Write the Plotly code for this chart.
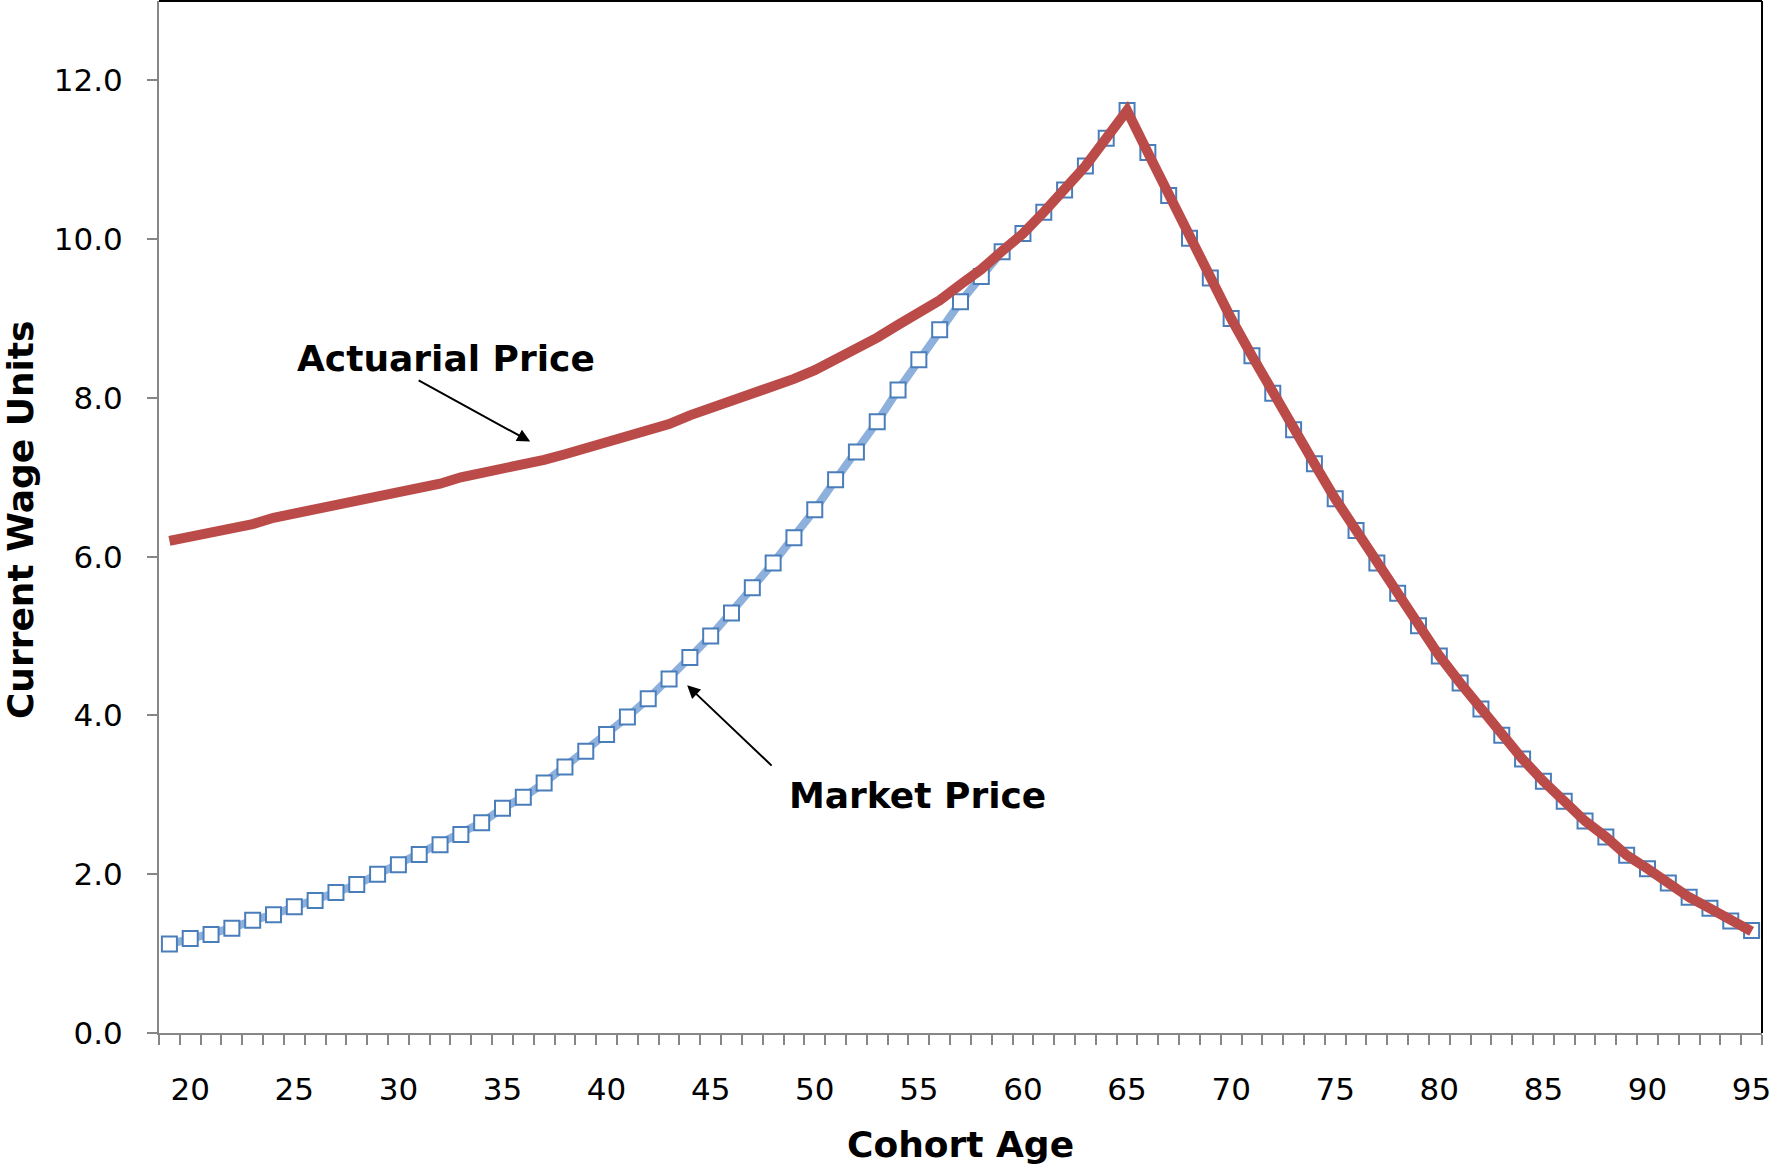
import plotly.graph_objects as go

ages = list(range(19, 96))

market_price = [
    1.12, 1.19, 1.24, 1.32, 1.42, 1.49, 1.59, 1.67, 1.77, 1.87,
    2.00, 2.12, 2.25, 2.37, 2.50, 2.65, 2.83, 2.97, 3.15, 3.35,
    3.55, 3.76, 3.98, 4.21, 4.46, 4.73, 5.00, 5.29, 5.61, 5.92,
    6.24, 6.59, 6.97, 7.32, 7.70, 8.10, 8.48, 8.86, 9.21, 9.53,
    9.84, 10.07, 10.34, 10.62, 10.92, 11.27, 11.62,
    11.09, 10.55, 10.01, 9.51, 9.00, 8.53, 8.06, 7.60, 7.17, 6.73,
    6.33, 5.92, 5.54, 5.13, 4.75, 4.41, 4.08, 3.75, 3.45, 3.17,
    2.92, 2.67, 2.47, 2.24, 2.07, 1.89, 1.71, 1.57, 1.41, 1.29,
]

actuarial_price = [
    6.20, 6.25, 6.31, 6.36, 6.41, 6.49, 6.54, 6.59, 6.64, 6.69,
    6.74, 6.81, 6.86, 6.92, 7.00, 7.05, 7.09, 7.17, 7.22, 7.29,
    7.37, 7.42, 7.50, 7.60, 7.67, 7.78, 7.87, 7.95, 8.04, 8.13,
    8.24, 8.35, 8.48, 8.61, 8.76, 8.92, 9.07, 9.23, 9.43, 9.62,
    9.85, 10.07, 10.34, 10.62, 10.92, 11.27, 11.62,
    11.09, 10.55, 10.01, 9.51, 9.00, 8.53, 8.06, 7.60, 7.17, 6.73,
    6.33, 5.92, 5.54, 5.13, 4.75, 4.41, 4.08, 3.75, 3.45, 3.17,
    2.92, 2.67, 2.47, 2.24, 2.07, 1.89, 1.71, 1.57, 1.41, 1.28,
]

x_tick_vals = list(range(20, 96, 5))
y_tick_vals = [0, 2, 4, 6, 8, 10, 12]

FONT = "DejaVu Sans"
AXIS_GREY = "#868686"

fig = go.Figure()

fig.add_trace(go.Scatter(
    x=ages, y=market_price, mode="lines+markers", name="Market Price",
    line=dict(color="#8DB0DD", width=8),
    marker=dict(symbol="square", size=15, color="white",
                line=dict(color="#4A7EBB", width=2)),
))

fig.add_trace(go.Scatter(
    x=ages, y=actuarial_price, mode="lines", name="Actuarial Price",
    line=dict(color="#BB4B48", width=10),
))

fig.update_layout(
    width=1775, height=1168,
    margin=dict(l=159, r=13, t=1, b=135, autoexpand=False),
    paper_bgcolor="white", plot_bgcolor="white",
    showlegend=False,
    font=dict(family=FONT, color="black"),
)

fig.update_xaxes(
    range=[18.5, 95.5], automargin=False,
    tickmode="array", tickvals=x_tick_vals,
    ticktext=[str(v) for v in x_tick_vals],
    ticks="", showgrid=False, zeroline=False,
    showline=True, linecolor=AXIS_GREY, linewidth=2,
    tickfont=dict(family=FONT, size=31, color="black"),
    ticklabelstandoff=28,
    minor=dict(ticks="outside", tickmode="array",
               tickvals=[a - 0.5 for a in ages] + [ages[-1] + 0.5],
               ticklen=10, tickwidth=2, tickcolor=AXIS_GREY, showgrid=False),
)

fig.update_yaxes(
    range=[0, 13], automargin=False,
    tickmode="array", tickvals=y_tick_vals,
    ticktext=[f"{v:.1f}" for v in y_tick_vals],
    ticks="outside", ticklen=10, tickwidth=2, tickcolor=AXIS_GREY,
    showgrid=False, zeroline=False,
    showline=True, linecolor=AXIS_GREY, linewidth=2,
    tickfont=dict(family=FONT, size=31, color="black"),
    ticklabelstandoff=18,
)

# top and right black borders of the plot area
fig.add_shape(type="line", xref="paper", yref="paper", x0=0, x1=1, y0=1, y1=1,
              line=dict(color="black", width=2))
fig.add_shape(type="line", xref="paper", yref="paper", x0=1, x1=1, y0=0, y1=1,
              line=dict(color="black", width=2))

# axis titles
fig.add_annotation(text="<b>Cohort Age</b>", xref="paper", yref="paper",
                   x=0.5, y=-0.108, xanchor="center", yanchor="middle",
                   showarrow=False, font=dict(family=FONT, size=36, color="black"))
fig.add_annotation(text="<b>Current Wage Units</b>", xref="paper", yref="paper",
                   x=-0.0867, y=0.497, xanchor="center", yanchor="middle",
                   textangle=-90, showarrow=False,
                   font=dict(family=FONT, size=36, color="black"))

# series labels
fig.add_annotation(text="<b>Actuarial Price</b>", x=32.3, y=8.50,
                   xanchor="center", yanchor="middle", showarrow=False,
                   font=dict(family=FONT, size=36, color="black"))
fig.add_annotation(text="<b>Market Price</b>", x=54.95, y=2.99,
                   xanchor="center", yanchor="middle", showarrow=False,
                   font=dict(family=FONT, size=36, color="black"))

# arrows
fig.add_annotation(x=36.33, y=7.45, ax=30.9, ay=8.23, axref="x", ayref="y",
                   text="", showarrow=True, arrowhead=2, arrowsize=1.3,
                   arrowwidth=2, arrowcolor="black")
fig.add_annotation(x=43.87, y=4.38, ax=48.0, ay=3.35, axref="x", ayref="y",
                   text="", showarrow=True, arrowhead=2, arrowsize=1.3,
                   arrowwidth=2, arrowcolor="black")

fig.write_html("out.html",
               config={"displayModeBar": False},
               post_script="document.body.style.margin='0';document.body.style.overflow='hidden';")
